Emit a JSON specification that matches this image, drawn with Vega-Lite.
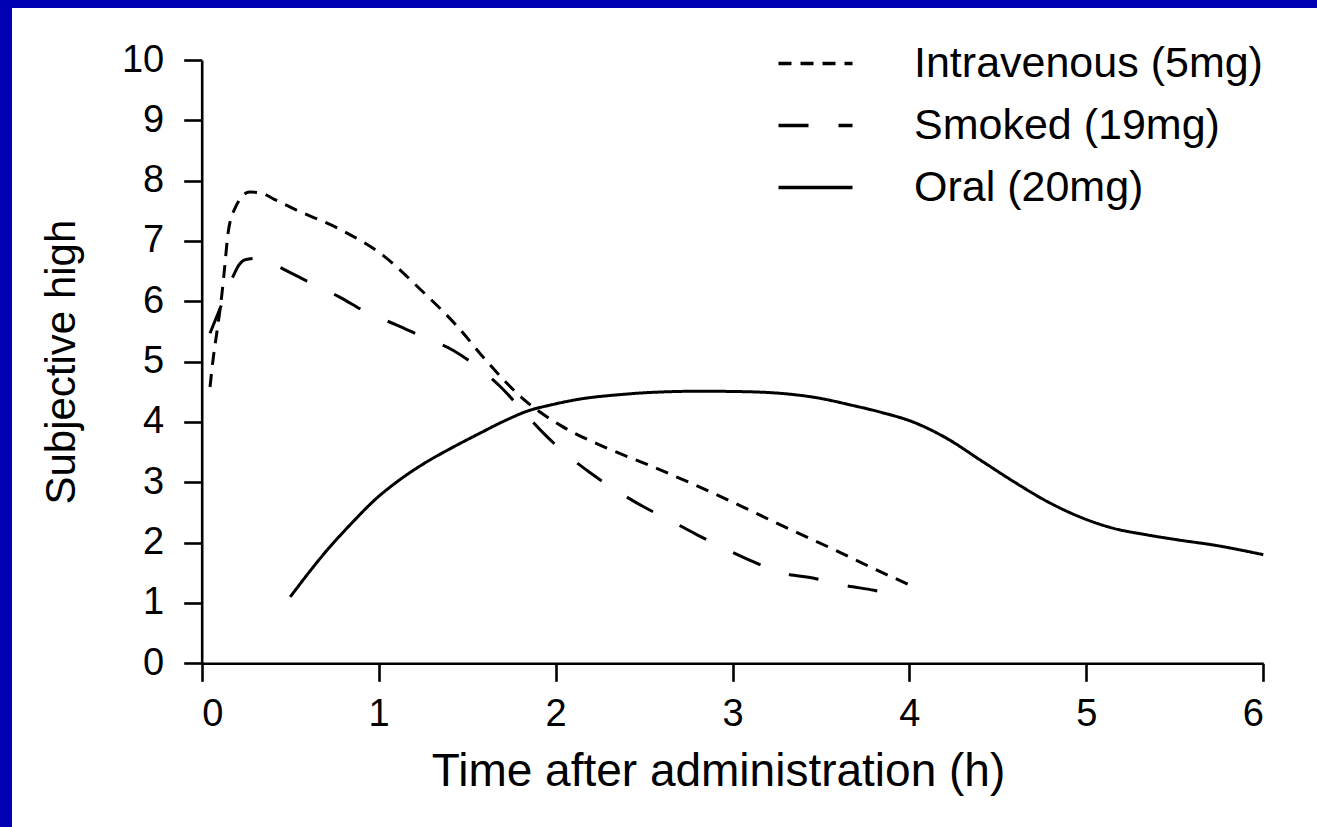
{
  "$schema": "https://vega.github.io/schema/vega-lite/v6.json",
  "width": 1305,
  "height": 819,
  "autosize": {"type": "none"},
  "padding": {"left": 12, "top": 8, "right": 0, "bottom": 0},
  "background": "#0000b4",
  "config": {
    "view": {"stroke": null, "fill": "white"},
    "font": "Liberation Sans",
    "axis": {
      "domainColor": "black", "domainWidth": 2.6, "tickColor": "black", "tickWidth": 2.6,
      "tickSize": 18, "grid": false, "labelColor": "black", "labelFont": "Liberation Sans",
      "labelFontSize": 38, "titleColor": "black", "titleFont": "Liberation Sans",
      "titleFontSize": 42, "titleFontWeight": "normal"
    },
    "legend": {
      "labelFont": "Liberation Sans", "labelFontSize": 43, "labelColor": "black", "labelLimit": 0
    }
  },
  "data": {
    "values": [
      {"t": 0.047, "h": 4.58, "route": "Intravenous (5mg)"},
      {"t": 0.067, "h": 5.1, "route": "Intravenous (5mg)"},
      {"t": 0.086, "h": 5.49, "route": "Intravenous (5mg)"},
      {"t": 0.115, "h": 6.14, "route": "Intravenous (5mg)"},
      {"t": 0.13, "h": 6.57, "route": "Intravenous (5mg)"},
      {"t": 0.149, "h": 7.13, "route": "Intravenous (5mg)"},
      {"t": 0.188, "h": 7.54, "route": "Intravenous (5mg)"},
      {"t": 0.27, "h": 7.81, "route": "Intravenous (5mg)"},
      {"t": 0.33, "h": 7.8, "route": "Intravenous (5mg)"},
      {"t": 0.41, "h": 7.69, "route": "Intravenous (5mg)"},
      {"t": 0.53, "h": 7.52, "route": "Intravenous (5mg)"},
      {"t": 0.79, "h": 7.18, "route": "Intravenous (5mg)"},
      {"t": 1.03, "h": 6.75, "route": "Intravenous (5mg)"},
      {"t": 1.235, "h": 6.2, "route": "Intravenous (5mg)"},
      {"t": 1.44, "h": 5.6, "route": "Intravenous (5mg)"},
      {"t": 1.61, "h": 5.01, "route": "Intravenous (5mg)"},
      {"t": 1.81, "h": 4.4, "route": "Intravenous (5mg)"},
      {"t": 2.03, "h": 3.94, "route": "Intravenous (5mg)"},
      {"t": 2.28, "h": 3.58, "route": "Intravenous (5mg)"},
      {"t": 2.54, "h": 3.27, "route": "Intravenous (5mg)"},
      {"t": 2.8, "h": 2.94, "route": "Intravenous (5mg)"},
      {"t": 3.06, "h": 2.59, "route": "Intravenous (5mg)"},
      {"t": 3.31, "h": 2.24, "route": "Intravenous (5mg)"},
      {"t": 3.57, "h": 1.89, "route": "Intravenous (5mg)"},
      {"t": 3.82, "h": 1.54, "route": "Intravenous (5mg)"},
      {"t": 4.0, "h": 1.3, "route": "Intravenous (5mg)"},
      {"t": 0.047, "h": 5.47, "route": "Smoked (19mg)"},
      {"t": 0.113, "h": 5.95, "route": "Smoked (19mg)"},
      {"t": 0.18, "h": 6.43, "route": "Smoked (19mg)"},
      {"t": 0.21, "h": 6.6, "route": "Smoked (19mg)"},
      {"t": 0.245, "h": 6.69, "route": "Smoked (19mg)"},
      {"t": 0.3, "h": 6.71, "route": "Smoked (19mg)"},
      {"t": 0.36, "h": 6.69, "route": "Smoked (19mg)"},
      {"t": 0.47, "h": 6.52, "route": "Smoked (19mg)"},
      {"t": 0.62, "h": 6.3, "route": "Smoked (19mg)"},
      {"t": 0.78, "h": 6.07, "route": "Smoked (19mg)"},
      {"t": 0.93, "h": 5.82, "route": "Smoked (19mg)"},
      {"t": 1.1, "h": 5.61, "route": "Smoked (19mg)"},
      {"t": 1.25, "h": 5.41, "route": "Smoked (19mg)"},
      {"t": 1.42, "h": 5.19, "route": "Smoked (19mg)"},
      {"t": 1.56, "h": 4.91, "route": "Smoked (19mg)"},
      {"t": 1.69, "h": 4.58, "route": "Smoked (19mg)"},
      {"t": 1.81, "h": 4.2, "route": "Smoked (19mg)"},
      {"t": 1.93, "h": 3.82, "route": "Smoked (19mg)"},
      {"t": 2.05, "h": 3.49, "route": "Smoked (19mg)"},
      {"t": 2.19, "h": 3.17, "route": "Smoked (19mg)"},
      {"t": 2.34, "h": 2.87, "route": "Smoked (19mg)"},
      {"t": 2.5, "h": 2.59, "route": "Smoked (19mg)"},
      {"t": 2.64, "h": 2.38, "route": "Smoked (19mg)"},
      {"t": 2.8, "h": 2.13, "route": "Smoked (19mg)"},
      {"t": 2.95, "h": 1.91, "route": "Smoked (19mg)"},
      {"t": 3.12, "h": 1.68, "route": "Smoked (19mg)"},
      {"t": 3.28, "h": 1.5, "route": "Smoked (19mg)"},
      {"t": 3.46, "h": 1.41, "route": "Smoked (19mg)"},
      {"t": 3.62, "h": 1.3, "route": "Smoked (19mg)"},
      {"t": 3.8, "h": 1.21, "route": "Smoked (19mg)"},
      {"t": 3.98, "h": 1.1, "route": "Smoked (19mg)"},
      {"t": 0.5, "h": 1.1, "route": "Oral (20mg)"},
      {"t": 0.71, "h": 1.88, "route": "Oral (20mg)"},
      {"t": 0.85, "h": 2.33, "route": "Oral (20mg)"},
      {"t": 0.99, "h": 2.74, "route": "Oral (20mg)"},
      {"t": 1.1, "h": 3.0, "route": "Oral (20mg)"},
      {"t": 1.25, "h": 3.3, "route": "Oral (20mg)"},
      {"t": 1.4, "h": 3.55, "route": "Oral (20mg)"},
      {"t": 1.57, "h": 3.81, "route": "Oral (20mg)"},
      {"t": 1.72, "h": 4.03, "route": "Oral (20mg)"},
      {"t": 1.84, "h": 4.18, "route": "Oral (20mg)"},
      {"t": 1.97, "h": 4.28, "route": "Oral (20mg)"},
      {"t": 2.16, "h": 4.39, "route": "Oral (20mg)"},
      {"t": 2.35, "h": 4.45, "route": "Oral (20mg)"},
      {"t": 2.54, "h": 4.49, "route": "Oral (20mg)"},
      {"t": 2.82, "h": 4.51, "route": "Oral (20mg)"},
      {"t": 3.1, "h": 4.5, "route": "Oral (20mg)"},
      {"t": 3.29, "h": 4.47, "route": "Oral (20mg)"},
      {"t": 3.48, "h": 4.4, "route": "Oral (20mg)"},
      {"t": 3.67, "h": 4.28, "route": "Oral (20mg)"},
      {"t": 3.84, "h": 4.16, "route": "Oral (20mg)"},
      {"t": 4.02, "h": 4.0, "route": "Oral (20mg)"},
      {"t": 4.21, "h": 3.73, "route": "Oral (20mg)"},
      {"t": 4.4, "h": 3.37, "route": "Oral (20mg)"},
      {"t": 4.59, "h": 3.01, "route": "Oral (20mg)"},
      {"t": 4.78, "h": 2.68, "route": "Oral (20mg)"},
      {"t": 4.96, "h": 2.43, "route": "Oral (20mg)"},
      {"t": 5.15, "h": 2.24, "route": "Oral (20mg)"},
      {"t": 5.34, "h": 2.13, "route": "Oral (20mg)"},
      {"t": 5.53, "h": 2.04, "route": "Oral (20mg)"},
      {"t": 5.72, "h": 1.96, "route": "Oral (20mg)"},
      {"t": 6.0, "h": 1.8, "route": "Oral (20mg)"}
    ]
  },
  "mark": {"type": "line", "color": "black", "strokeWidth": 3, "interpolate": "monotone"},
  "encoding": {
    "x": {
      "field": "t", "type": "quantitative",
      "scale": {"domain": [0, 6], "range": [189.7, 1251.3], "nice": false, "zero": false},
      "axis": {"orient": "bottom", "offset": -163.7, "values": [0, 1, 2, 3, 4, 5, 6], "labelPadding": 14, "titlePadding": 16, "titleFontSize": 46, "titleX": 706, "title": "Time after administration (h)"}
    },
    "y": {
      "field": "h", "type": "quantitative",
      "scale": {"domain": [0, 10], "range": [655.3, 52], "nice": false, "zero": false},
      "axis": {"orient": "left", "offset": -189.7, "values": [0, 1, 2, 3, 4, 5, 6, 7, 8, 9, 10], "labelPadding": 20, "titlePadding": 38, "title": "Subjective high"}
    },
    "strokeDash": {
      "field": "route", "type": "nominal",
      "scale": {"domain": ["Intravenous (5mg)", "Smoked (19mg)", "Oral (20mg)"], "range": [[13, 9], [30, 30], [1, 0]]},
      "legend": {
        "title": null, "orient": "none", "legendX": 782, "legendY": 34, "padding": 0,
        "symbolType": "M-2.5,0H2.5", "symbolSize": 876, "symbolStrokeWidth": 3.5, "symbolStrokeColor": "black",
        "labelOffset": 77, "rowPadding": 18
      }
    }
  }
}
